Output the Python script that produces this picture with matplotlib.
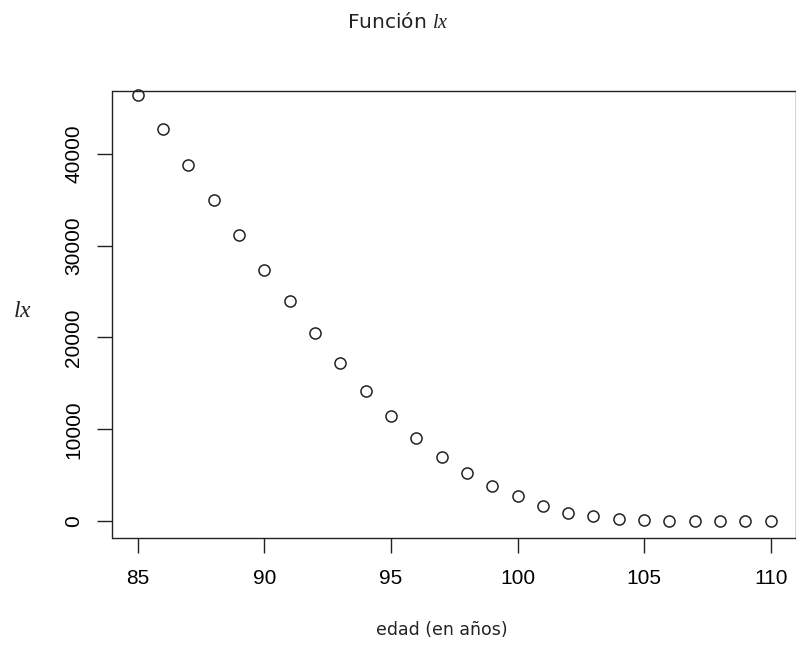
import numpy as np
import matplotlib
matplotlib.use("Agg")
import matplotlib.pyplot as plt

# Datos
edad = list(range(85, 111))
lx = [46360, 42640, 38800, 34960, 31090, 27330, 23960, 20490, 17260, 14220,
      11480, 9090, 7025, 5290, 3875, 2750, 1660, 940, 580, 250,
      110, 40, 15, 6, 2, 1]

x_ticks = [85, 90, 95, 100, 105, 110]
y_ticks = [0, 10000, 20000, 30000, 40000]

# cursiva con serifa para lx (como expression() de R)
plt.rcParams["mathtext.fontset"] = "custom"
plt.rcParams["mathtext.it"] = "Liberation Serif:italic"
plt.rcParams["mathtext.rm"] = "Liberation Serif"

fig = plt.figure(figsize=(7.96, 6.45), dpi=100)
ax = fig.add_axes([112.5 / 796, (645 - 538) / 645, 683.5 / 796, 447 / 645])

ax.plot(edad, lx, linestyle="none", marker="o", markersize=8,
        markerfacecolor="none", markeredgecolor="#222222", markeredgewidth=1.1,
        clip_on=False)

ax.set_xlim(84, 111)
ax.set_ylim(-1800, 46800)
ax.set_xticks(x_ticks)
ax.set_yticks(y_ticks)
ax.set_xticklabels([str(t) for t in x_ticks], family="Liberation Sans", fontsize=15)
ax.set_yticklabels([str(t) for t in y_ticks], family="Liberation Sans", fontsize=15,
                   rotation=90, va="center")
ax.tick_params(axis="x", length=11, width=1.0, color="#222222", pad=11)
ax.tick_params(axis="y", length=11, width=1.0, color="#222222", pad=10)
for s in ax.spines.values():
    s.set_linewidth(1.0)
    s.set_color("#222222")

fig.text(0.5, 1 - 22 / 645, "Función $\\mathit{lx}$", ha="center", va="center",
         fontsize=14.5, family="DejaVu Sans", color="#222222")
fig.text(442 / 796, 1 - 630 / 645, "edad (en años)", ha="center", va="center",
         fontsize=12.5, family="DejaVu Sans", color="#222222")
fig.text(22 / 796, 1 - 310 / 645, "$\\mathit{lx}$", ha="center", va="center",
         fontsize=17, color="#222222")

fig.savefig("out.png", dpi=100)
